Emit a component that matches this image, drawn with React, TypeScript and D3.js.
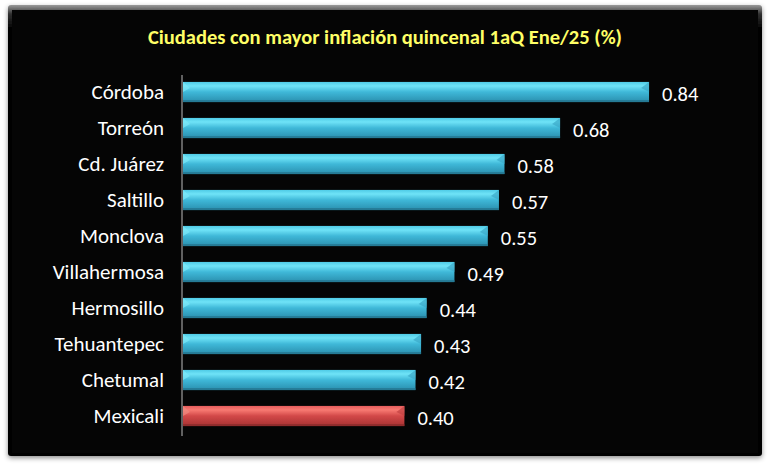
import React from "react";
import * as d3 from "d3";

const categories = ["Córdoba","Torreón","Cd. Juárez","Saltillo","Monclova","Villahermosa","Hermosillo","Tehuantepec","Chetumal","Mexicali"];
const values = [0.84,0.68,0.58,0.57,0.55,0.49,0.44,0.43,0.42,0.40];
const highlighted = ["Mexicali"];
const title = "Ciudades con mayor inflación quincenal 1aQ Ene/25 (%)";

export default function App() {
  const W = 770, H = 471;
  const x0 = 182;
  const x = d3.scaleLinear().domain([0, 1]).range([x0, x0 + 556]);
  const y = d3.scaleBand().domain(categories).range([74, 434]).paddingInner(0.44).paddingOuter(0.22);
  const bh = y.bandwidth();
  const font = "Carlito, Calibri, Lato, 'Open Sans', sans-serif";
  return (
    <svg width={W} height={H} style={{ display: "block", position: "absolute", left: 0, top: 0 }}>
      <defs>
        <linearGradient id="blue" x1="0" y1="0" x2="0" y2="1">
          <stop offset="0" stopColor="#4fcbe6" />
          <stop offset="0.2" stopColor="#6fe3f7" />
          <stop offset="0.5" stopColor="#3fb8d8" />
          <stop offset="1" stopColor="#2a8fae" />
        </linearGradient>
        <linearGradient id="red" x1="0" y1="0" x2="0" y2="1">
          <stop offset="0" stopColor="#e65c5c" />
          <stop offset="0.2" stopColor="#f87a72" />
          <stop offset="0.5" stopColor="#d24848" />
          <stop offset="1" stopColor="#a83232" />
        </linearGradient>
        <linearGradient id="frame" x1="0" y1="0" x2="0" y2="1">
          <stop offset="0" stopColor="#9a9a9a" />
          <stop offset="0.02" stopColor="#303030" />
          <stop offset="0.05" stopColor="#050505" />
          <stop offset="1" stopColor="#050505" />
        </linearGradient>
        <filter id="sh" x="-5%" y="-5%" width="110%" height="110%">
          <feDropShadow dx="0" dy="2" stdDeviation="2.5" floodColor="#000" floodOpacity="0.45" />
        </filter>
      </defs>
      <rect x={0} y={0} width={W} height={H} fill="#fff" />
      <rect x={8} y={5} width={754} height={451} rx={3} fill="url(#frame)" filter="url(#sh)" />
      <rect x={12} y={10} width={746} height={443} fill="#050505" />
      <text x={385} y={44} textAnchor="middle" fill="#ffff66" fontFamily={font} fontWeight="bold" fontSize={20.5}>{title}</text>
      <line x1={x0} x2={x0} y1={75} y2={436} stroke="#bdbdbd" strokeWidth={1} />
      {categories.map((c, i) => {
        const yy = y(c)!;
        const xe = x(values[i]);
        const red = highlighted.includes(c);
        return (
          <g key={c}>
            <rect x={x0 + 1} y={yy} width={xe - x0 - 1} height={bh} fill={red ? "url(#red)" : "url(#blue)"} />
            <rect x={x0 + 1} y={yy + bh - 2} width={xe - x0 - 1} height={2} fill={red ? "#8a2a2a" : "#24748e"} opacity={0.8} />
            <path d={`M${x0 + 1},${yy} L${x0 + 8},${yy + 6} L${x0 + 1},${yy + 10} Z`} fill={red ? "#f08a80" : "#7ee8f8"} opacity={0.7} />
            <path d={`M${xe},${yy} L${xe - 8},${yy + 6} L${xe},${yy + 10} Z`} fill={red ? "#c04040" : "#3aa8c8"} opacity={0.7} />
            <text x={164} y={yy + bh / 2} dy="0.35em" textAnchor="end" fill="#fff" fontFamily={font} fontSize={21}>{c}</text>
            <text x={xe + 13} y={yy + bh / 2 + 2} dy="0.35em" textAnchor="start" fill="#fff" fontFamily={font} fontSize={20.5}>{values[i].toFixed(2)}</text>
          </g>
        );
      })}
    </svg>
  );
}
